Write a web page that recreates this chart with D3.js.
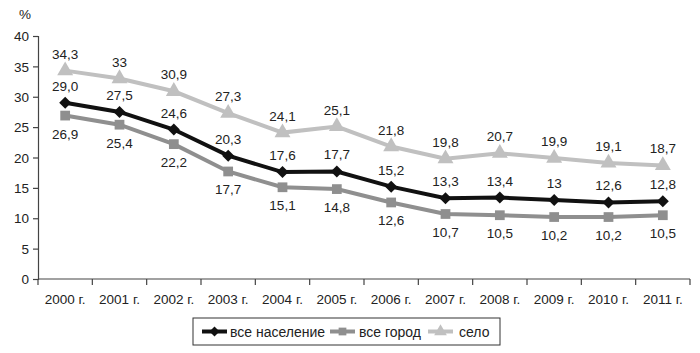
<!DOCTYPE html>
<html>
<head>
<meta charset="utf-8">
<script src="https://cdn.jsdelivr.net/npm/d3@7"></script>
<style>
  body { margin: 0; background: #fff; }
  text { font-family: "Liberation Sans", Arial, sans-serif; fill: #222; }
  .axis text { font-size: 13.5px; }
  .label { font-size: 13.5px; }
</style>
</head>
<body>
<div id="chart"></div>
<script>
// data
const years = ["2000 г.", "2001 г.", "2002 г.", "2003 г.", "2004 г.", "2005 г.",
               "2006 г.", "2007 г.", "2008 г.", "2009 г.", "2010 г.", "2011 г."];
const total = [29.0, 27.5, 24.6, 20.3, 17.6, 17.7, 15.2, 13.3, 13.4, 13, 12.6, 12.8];
const totalLabels = ["29,0", "27,5", "24,6", "20,3", "17,6", "17,7", "15,2", "13,3", "13,4", "13", "12,6", "12,8"];
const city = [26.9, 25.4, 22.2, 17.7, 15.1, 14.8, 12.6, 10.7, 10.5, 10.2, 10.2, 10.5];
const cityLabels = ["26,9", "25,4", "22,2", "17,7", "15,1", "14,8", "12,6", "10,7", "10,5", "10,2", "10,2", "10,5"];
const village = [34.3, 33, 30.9, 27.3, 24.1, 25.1, 21.8, 19.8, 20.7, 19.9, 19.1, 18.7];
const villageLabels = ["34,3", "33", "30,9", "27,3", "24,1", "25,1", "21,8", "19,8", "20,7", "19,9", "19,1", "18,7"];
const yTicks = [0, 5, 10, 15, 20, 25, 30, 35, 40];
const seriesNames = ["все население", "все город", "село"];

const W = 700, H = 353;
const margin = {top: 36, right: 10, bottom: 74, left: 38};
const width = W - margin.left - margin.right;
const height = H - margin.top - margin.bottom;

const svg = d3.select("#chart")
  .append("svg")
    .attr("width", W)
    .attr("height", H);

const g = svg.append("g")
  .attr("transform", `translate(${margin.left}, ${margin.top})`);

const xScale = d3.scaleBand().domain(years).range([0, width]);
const yScale = d3.scaleLinear().domain([0, 40]).range([height, 0]);
const xc = d => xScale(d) + xScale.bandwidth() / 2;

// y axis
const yAxis = g.append("g")
  .attr("class", "axis")
  .call(d3.axisLeft(yScale).tickValues(yTicks).tickSize(5).tickPadding(4));
yAxis.selectAll("line, path").attr("stroke", "#444").attr("stroke-width", 1.2);
yAxis.selectAll("text").attr("dy", "0.35em").style("fill", "#222");

// x axis with ticks at band boundaries
const xAxis = g.append("g")
  .attr("class", "axis")
  .attr("transform", `translate(0, ${height})`);
xAxis.append("line")
  .attr("x1", 0).attr("x2", width)
  .attr("stroke", "#444").attr("stroke-width", 1.2);
xAxis.selectAll(".bt")
  .data(d3.range(years.length + 1))
  .enter().append("line")
    .attr("x1", i => i * xScale.step()).attr("x2", i => i * xScale.step())
    .attr("y1", 0).attr("y2", 6)
    .attr("stroke", "#444").attr("stroke-width", 1.2);
xAxis.selectAll(".yl")
  .data(years)
  .enter().append("text")
    .attr("x", d => xc(d))
    .attr("y", 25)
    .attr("text-anchor", "middle")
    .text(d => d);

// percent sign
g.append("text")
  .attr("class", "label")
  .attr("x", -19).attr("y", -17)
  .text("%");

const line = d3.line()
  .x((d, i) => xc(years[i]))
  .y(d => yScale(d));

// wide diamond = square turned 45 degrees
const series = [
  {values: village, labels: villageLabels, color: "#c0c0c0", shape: d3.symbolTriangle, size: 110, rot: 0, dy: -12},
  {values: city, labels: cityLabels, color: "#8f8f8f", shape: d3.symbolSquare, size: 95, rot: 0, dy: 23},
  {values: total, labels: totalLabels, color: "#111", shape: d3.symbolSquare, size: 72, rot: 45, dy: -12}
];

series.forEach(s => {
  g.append("path")
    .datum(s.values)
    .attr("fill", "none")
    .attr("stroke", s.color)
    .attr("stroke-width", 4)
    .attr("d", line);
  g.selectAll(null)
    .data(s.values)
    .enter().append("path")
      .attr("transform", (d, i) => `translate(${xc(years[i])}, ${yScale(d)}) rotate(${s.rot})`)
      .attr("d", d3.symbol().type(s.shape).size(s.size))
      .attr("fill", s.color);
  g.selectAll(null)
    .data(s.values)
    .enter().append("text")
      .attr("class", "label")
      .attr("x", (d, i) => xc(years[i]))
      .attr("y", d => yScale(d) + s.dy)
      .attr("text-anchor", "middle")
      .text((d, i) => s.labels[i]);
});

// legend
const legend = svg.append("g").attr("transform", "translate(193, 318)");
legend.append("rect")
  .attr("width", 307).attr("height", 27)
  .attr("fill", "#fff").attr("stroke", "#333").attr("stroke-width", 1);

const legendItems = [
  {name: seriesNames[0], color: "#111", shape: d3.symbolSquare, size: 50, rot: 45, x: 9, tx: 37},
  {name: seriesNames[1], color: "#8f8f8f", shape: d3.symbolSquare, size: 60, rot: 0, x: 137, tx: 166},
  {name: seriesNames[2], color: "#c0c0c0", shape: d3.symbolTriangle, size: 70, rot: 0, x: 235, tx: 266}
];
legendItems.forEach(it => {
  legend.append("line")
    .attr("x1", it.x).attr("x2", it.x + 25)
    .attr("y1", 13.5).attr("y2", 13.5)
    .attr("stroke", it.color).attr("stroke-width", 4);
  legend.append("path")
    .attr("transform", `translate(${it.x + 12.5}, 13.5) rotate(${it.rot})`)
    .attr("d", d3.symbol().type(it.shape).size(it.size))
    .attr("fill", it.color);
  legend.append("text")
    .attr("class", "label")
    .attr("x", it.tx).attr("y", 18.5)
    .style("font-size", "14px")
    .text(it.name);
});
</script>
</body>
</html>
